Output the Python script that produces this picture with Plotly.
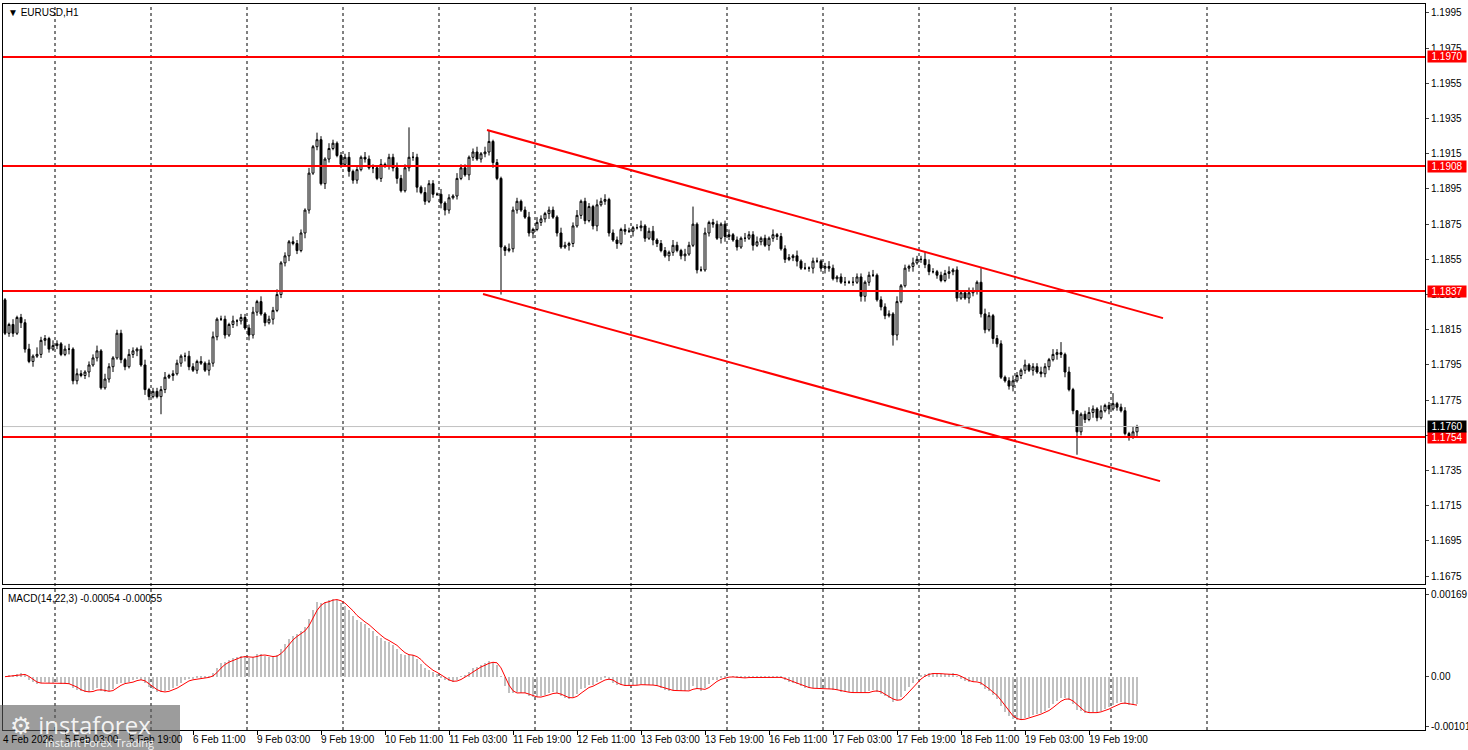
import numpy as np
import pandas as pd
import plotly.graph_objects as go

# EURUSD H1, closes in pips above 1.1700 (bar 0 opens at 132)
first_open = 132
closes = [
    113, 118, 113, 122, 119, 104, 97, 100, 101, 109,
    110, 104, 106, 107, 101, 104, 104, 86, 90, 89,
    91, 95, 99, 103, 82, 87, 94, 99, 113, 98,
    94, 101, 103, 104, 95, 81, 77, 80, 77, 81,
    88, 89, 90, 96, 100, 100, 94, 92, 97, 96,
    92, 96, 111, 121, 121, 112, 118, 120, 120, 122,
    116, 112, 125, 131, 124, 119, 121, 126, 135, 153,
    157, 165, 164, 160, 170, 183, 204, 219, 223, 198,
    212, 218, 221, 214, 209, 213, 205, 200, 206, 213,
    212, 207, 207, 201, 209, 208, 213, 207, 201, 194,
    207, 213, 213, 196, 193, 188, 198, 192, 192, 187,
    183, 190, 191, 201, 207, 203, 213, 216, 212, 215,
    216, 222, 210, 201, 162, 160, 161, 183, 188, 183,
    179, 170, 172, 176, 178, 181, 183, 179, 170, 162,
    163, 164, 174, 180, 188, 177, 185, 174, 186, 188,
    189, 170, 166, 164, 172, 171, 171, 173, 173, 174,
    167, 171, 166, 164, 160, 157, 159, 163, 160, 157,
    158, 163, 175, 149, 149, 170, 176, 175, 167, 175,
    168, 169, 166, 162, 167, 167, 169, 163, 165, 167,
    163, 167, 169, 168, 161, 155, 156, 157, 154, 150,
    150, 150, 154, 154, 150, 151, 150, 144, 145, 142,
    142, 142, 142, 145, 134, 142, 146, 146, 132, 128,
    123, 124, 112, 131, 140, 150, 151, 153, 155, 155,
    152, 148, 148, 146, 143, 147, 148, 149, 133, 136,
    133, 136, 137, 142, 124, 115, 123, 110, 107, 88,
    86, 83, 86, 89, 92, 95, 92, 94, 91, 90,
    94, 98, 101, 102, 101, 91, 81, 69, 57, 67,
    64, 68, 70, 65, 69, 72, 70, 73, 71, 69,
    56, 54, 57, 60,
]

# wick sizes in pips, one digit per bar
wick_up = "".join([
    "21312 23142 21321 23132", "12231 32122 13212 31223", "31221 23213 12312 21312",
    "22313 12231 21322 13122", "13212 23121 32213 12232", "21321 32213 12132 21231",
    "32122 13221 23132 12213", "21231 22132 31221 32123", "12312 21321 32212 31221",
    "23121 32231 21312 22131", "31221 23212 31322 12312", "22131 21322 13212 23121",
    "13212 32122 12321 31223", "21322 13121 23213 12212", "2131",
]).replace(" ", "")
wick_dn = "".join([
    "12213 21312 32121 13221", "23121 12312 21231 32112", "21312 32121 13221 21232",
    "13221 21312 23121 32121", "32112 13221 21312 12231", "12231 21213 32121 13212",
    "21312 31221 12312 23121", "13212 21231 22131 21312", "21321 13212 31221 12213",
    "32121 21312 13221 21231", "12312 32121 21213 32112", "21231 12312 32121 13221",
    "13221 21321 12312 21312", "22131 31212 21321 13221", "1213",
]).replace(" ", "")

# bars with long wicks: index -> (high, low) in pips
wick_override = {
    0: (133, 112), 39: (83, 67), 78: (227, 217), 101: (230, 205), 121: (228, 214),
    124: (202, 135), 172: (185, 162), 222: (125, 106), 230: (159, 150),
    244: (150, 122), 264: (108, 99), 268: (69, 44), 277: (79, 69),
}

time_labels = ["4 Feb 2026", "5 Feb 03:00", "5 Feb 19:00", "6 Feb 11:00", "9 Feb 03:00",
               "9 Feb 19:00", "10 Feb 11:00", "11 Feb 03:00", "11 Feb 19:00", "12 Feb 11:00",
               "13 Feb 03:00", "13 Feb 19:00", "16 Feb 11:00", "17 Feb 03:00", "17 Feb 19:00",
               "18 Feb 11:00", "19 Feb 03:00", "19 Feb 19:00"]
label_bars = [-0.5, 15, 31, 47, 63, 79, 95, 111, 127, 143, 159, 175, 191, 207, 223, 239, 255, 271]
grid_bars = [12.5, 36.5, 60.5, 84.5, 108.5, 132.5, 156.5, 180.5, 204.5, 228.5, 252.5, 276.5, 300.5]

levels = [1.1970, 1.1908, 1.1837, 1.1754]
last_price = 1.1760
price_ticks = [1.1995, 1.1975, 1.1955, 1.1935, 1.1915, 1.1895, 1.1875, 1.1855, 1.1835,
               1.1815, 1.1795, 1.1775, 1.1755, 1.1735, 1.1715, 1.1695, 1.1675]

# channel lines (bar index, price)
chan_up_x = [120.5, 289.5]
chan_up_y = [1.19285, 1.18216]
chan_dn_x = [119.5, 288.75]
chan_dn_y = [1.18353, 1.17290]

# ---- build OHLC
n = len(closes)
idx = np.arange(n)
c = np.array(closes, dtype=float)
o = np.concatenate([[first_open], c[:-1]])
h = np.maximum(o, c) + np.array([int(d) for d in wick_up[:n]])
l = np.minimum(o, c) - np.array([int(d) for d in wick_dn[:n]])
for i, (hh, ll) in wick_override.items():
    h[i], l[i] = hh, ll
o, h, l, c = [1.17 + a / 10000 for a in (o, h, l, c)]

s = pd.Series(c)
macd = s.ewm(span=14, adjust=False).mean() - s.ewm(span=22, adjust=False).mean()
signal = macd.rolling(3, min_periods=1).mean()

fig = go.Figure()
fig.add_trace(go.Candlestick(
    x=idx, open=o, high=h, low=l, close=c, xaxis="x", yaxis="y",
    increasing=dict(line=dict(color="black", width=1), fillcolor="white"),
    decreasing=dict(line=dict(color="black", width=1), fillcolor="black"),
    whiskerwidth=0, showlegend=False, hoverinfo="skip"))
fig.add_trace(go.Scatter(x=chan_up_x, y=chan_up_y, mode="lines", line=dict(color="red", width=2),
                         xaxis="x", yaxis="y", showlegend=False))
fig.add_trace(go.Scatter(x=chan_dn_x, y=chan_dn_y, mode="lines", line=dict(color="red", width=2),
                         xaxis="x", yaxis="y", showlegend=False))
fig.add_trace(go.Bar(x=idx, y=macd, marker=dict(color="#c0c0c0", line=dict(width=0)), width=0.7,
                     xaxis="x2", yaxis="y2", showlegend=False))
fig.add_trace(go.Scatter(x=idx, y=signal, mode="lines", line=dict(color="red", width=1),
                         xaxis="x2", yaxis="y2", showlegend=False))

shapes = []
for g in grid_bars:
    shapes.append(dict(type="line", xref="x", yref="paper", x0=g, x1=g, y0=0, y1=1,
                       line=dict(color="black", width=1, dash="3px,3px"), layer="below"))
shapes.append(dict(type="line", xref="paper", yref="y", x0=0, x1=1, y0=last_price, y1=last_price,
                   line=dict(color="#c0c0c0", width=1)))
for lv in levels:
    shapes.append(dict(type="line", xref="paper", yref="y", x0=0, x1=1, y0=lv, y1=lv,
                       line=dict(color="red", width=2)))
# instaforex badge
shapes.append(dict(type="rect", xref="paper", yref="paper", x0=-3 / 1422, x1=177 / 1422,
                   y0=-20 / 726, y1=25 / 726, fillcolor="rgba(90,90,90,0.6)", line=dict(width=0)))

fam = "Liberation Sans, Arial"
font = dict(family=fam, size=10, color="black")
ann = []
for lb, tx in zip(label_bars, time_labels):
    ann.append(dict(x=lb, xref="x2", y=0, yref="paper", yanchor="top", xanchor="left",
                    text=tx, showarrow=False, font=font, yshift=-2, xshift=-2))
for lv in levels:
    ann.append(dict(x=1, xref="paper", y=lv, yref="y", xanchor="left", text=f"{lv:.4f}",
                    showarrow=False, bgcolor="red", font=dict(family=fam, size=10, color="white"),
                    borderpad=0, xshift=2, width=38, align="center"))
ann.append(dict(x=1, xref="paper", y=last_price, yref="y", xanchor="left", text=f"{last_price:.4f}",
                showarrow=False, bgcolor="black", font=dict(family=fam, size=10, color="white"),
                borderpad=0, xshift=2, width=38, align="center"))
ann.append(dict(x=0.002, xref="paper", y=0.998, yref="paper", xanchor="left", yanchor="top",
                text="▼ EURUSD,H1", showarrow=False, font=font))
ann.append(dict(x=0.002, xref="paper", y=0.192, yref="paper", xanchor="left", yanchor="top",
                text="MACD(14,22,3) -0.00054 -0.00055", showarrow=False, font=font))
ann.append(dict(x=5 / 1422, xref="paper", y=6 / 726, yref="paper", xanchor="left", yanchor="middle",
                text="⚙ instaforex", showarrow=False,
                font=dict(family="Open Sans", size=24, color="rgba(255,255,255,0.9)")))
ann.append(dict(x=40 / 1422, xref="paper", y=-12 / 726, yref="paper", xanchor="left", yanchor="middle",
                text="Instant Forex Trading", showarrow=False,
                font=dict(family="Open Sans", size=11, color="rgba(255,255,255,0.9)")))

axis_common = dict(showgrid=False, zeroline=False, showline=True, linecolor="black", linewidth=1,
                   mirror=True, tickfont=font, automargin=False)
fig.update_layout(
    width=1468, height=750, plot_bgcolor="white", paper_bgcolor="white",
    margin=dict(l=3, r=43, t=4, b=20, autoexpand=False), bargap=0, showlegend=False,
    xaxis=dict(axis_common, range=[-0.5, 355], domain=[0, 1], anchor="y", showticklabels=False,
               rangeslider=dict(visible=False), ticks=""),
    xaxis2=dict(axis_common, range=[-0.5, 355], domain=[0, 1], anchor="y2", matches="x",
                tickvals=label_bars[1:], ticktext=[""] * (len(label_bars) - 1), ticks="outside",
                ticklen=4, tickcolor="black"),
    yaxis=dict(axis_common, domain=[0.201, 1], range=[1.16705, 1.20001], side="right",
               tickvals=price_ticks, ticktext=[f"{t:.4f}" for t in price_ticks],
               ticks="outside", ticklen=3, anchor="x"),
    yaxis2=dict(axis_common, domain=[0, 0.194], range=[-0.00109, 0.00179], side="right",
                tickvals=[0.00169, 0.0, -0.00101], ticktext=["0.00169", "0.00", "-0.00101"],
                ticks="outside", ticklen=3, anchor="x2"),
    shapes=shapes, annotations=ann,
)

# drop the default page margin so the chart sits at the window's top-left
fig.write_html("out.html", config={"displayModeBar": False},
               post_script="document.body.style.margin='0';document.body.style.overflow='hidden';")
